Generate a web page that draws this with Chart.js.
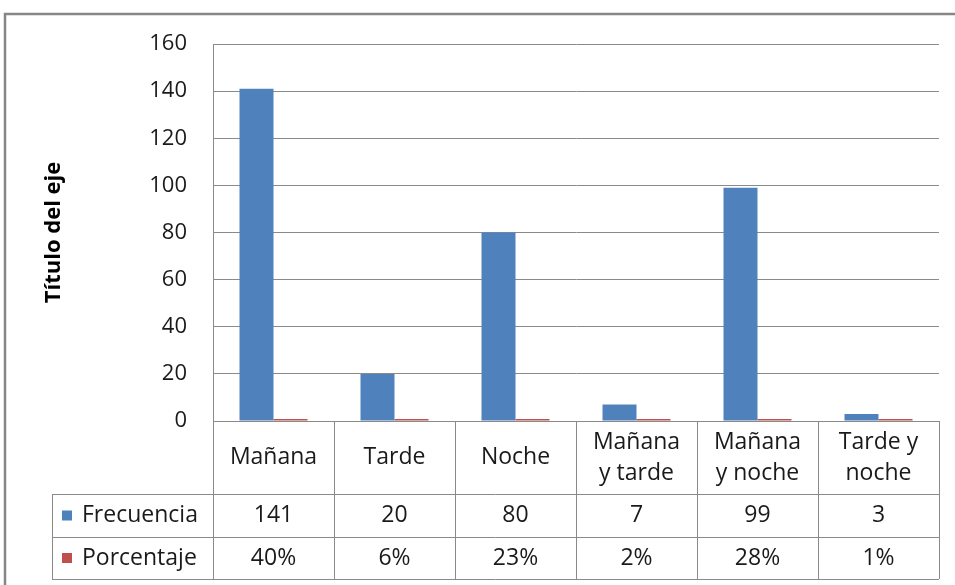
<!DOCTYPE html>
<html>
<head>
<meta charset="utf-8">
<script src="https://cdn.jsdelivr.net/npm/chart.js@4.4.0/dist/chart.umd.min.js"></script>
<style>
  body { margin: 0; background: #fff; }
  #wrap { width: 955px; height: 585px; position: relative; }
</style>
</head>
<body>
<div id="wrap"><canvas id="turnoChart"></canvas></div>
<script>
const categories = ['Mañana', 'Tarde', 'Noche', 'Mañana y tarde', 'Mañana y noche', 'Tarde y noche'];
const categoryLines = [['Mañana'], ['Tarde'], ['Noche'], ['Mañana', 'y tarde'], ['Mañana', 'y noche'], ['Tarde y', 'noche']];
const frecuencia = [141, 20, 80, 7, 99, 3];
const porcentaje = [0.40, 0.06, 0.23, 0.02, 0.28, 0.01];
const yTicks = [0, 20, 40, 60, 80, 100, 120, 140, 160];

const BLUE = '#4F81BD';
const RED = '#C0504D';
const LINE = '#8a8a8a';
const FONT = '"Open Sans", "Noto Sans", sans-serif';

function formatPercent(v) {
  return Math.round(v * 100) + '%';
}

// outer frame of the chart object, like the spreadsheet border
const framePlugin = {
  id: 'frame',
  beforeDraw(chart) {
    const ctx = chart.ctx;
    ctx.save();
    ctx.fillStyle = '#fff';
    ctx.fillRect(0, 0, chart.width, chart.height);
    ctx.strokeStyle = '#868686';
    ctx.lineWidth = 2.5;
    ctx.beginPath();
    ctx.moveTo(5, chart.height);
    ctx.lineTo(5, 14);
    ctx.lineTo(chart.width, 14);
    ctx.stroke();
    ctx.restore();
  }
};

// data table under the x axis, built from the scale positions
const dataTablePlugin = {
  id: 'dataTable',
  afterDraw(chart) {
    const ctx = chart.ctx;
    const x = chart.scales.x;
    const area = chart.chartArea;
    const n = categories.length;
    const colW = (area.right - area.left) / n;
    const top = area.bottom;
    const headerBottom = top + 73;
    const row1Bottom = headerBottom + 43;
    const row2Bottom = row1Bottom + 42;
    const legendLeft = 52;

    ctx.save();
    ctx.strokeStyle = LINE;
    ctx.lineWidth = 1;

    const hline = (y, x0, x1) => {
      ctx.beginPath();
      ctx.moveTo(x0, Math.round(y) + 0.5);
      ctx.lineTo(x1, Math.round(y) + 0.5);
      ctx.stroke();
    };
    const vline = (xx, y0, y1) => {
      ctx.beginPath();
      ctx.moveTo(Math.round(xx) + 0.5, y0);
      ctx.lineTo(Math.round(xx) + 0.5, y1);
      ctx.stroke();
    };

    hline(headerBottom, legendLeft, area.right);
    hline(row1Bottom, legendLeft, area.right);
    hline(row2Bottom, legendLeft, area.right);
    vline(legendLeft, headerBottom, row2Bottom);
    for (let i = 0; i <= n; i++) {
      vline(area.left + i * colW, top, row2Bottom);
    }

    ctx.fillStyle = '#1a1a1a';
    ctx.font = '23px ' + FONT;
    ctx.textAlign = 'center';
    ctx.textBaseline = 'middle';

    const headerMid = (top + headerBottom) / 2;
    const row1Mid = (headerBottom + row1Bottom) / 2;
    const row2Mid = (row1Bottom + row2Bottom) / 2;
    const lineH = 31;

    categoryLines.forEach((lines, i) => {
      const cx = x.getPixelForValue(i);
      const startY = headerMid - (lines.length - 1) * lineH / 2;
      lines.forEach((t, j) => ctx.fillText(t, cx, startY + j * lineH));
      ctx.fillText(String(frecuencia[i]), cx, row1Mid);
      ctx.fillText(formatPercent(porcentaje[i]), cx, row2Mid);
    });

    // legend keys in the first column
    const rows = [
      { label: chart.data.datasets[0].label, color: BLUE, y: row1Mid },
      { label: chart.data.datasets[1].label, color: RED, y: row2Mid }
    ];
    ctx.textAlign = 'left';
    rows.forEach(r => {
      ctx.fillStyle = r.color;
      ctx.fillRect(62, r.y - 5, 10, 10);
      ctx.fillStyle = '#1a1a1a';
      ctx.fillText(r.label, 82, r.y);
    });

    ctx.restore();
  }
};

const ctx = document.getElementById('turnoChart').getContext('2d');

new Chart(ctx, {
  type: 'bar',
  data: {
    labels: categories,
    datasets: [
      {
        label: 'Frecuencia',
        data: frecuencia,
        backgroundColor: BLUE,
        categoryPercentage: 0.562,
        barPercentage: 1
      },
      {
        label: 'Porcentaje',
        data: porcentaje,
        backgroundColor: RED,
        minBarLength: 2,
        categoryPercentage: 0.562,
        barPercentage: 1
      }
    ]
  },
  options: {
    responsive: true,
    maintainAspectRatio: false,
    animation: false,
    layout: {
      padding: { top: 44, right: 16, bottom: 6, left: 0 }
    },
    plugins: {
      legend: { display: false },
      tooltip: { enabled: false }
    },
    scales: {
      x: {
        grid: { display: false },
        border: { display: false },
        ticks: { display: false },
        afterFit: function(scale) {
          scale.height = 158;
        }
      },
      y: {
        min: 0,
        max: 160,
        afterBuildTicks: function(scale) {
          scale.ticks = yTicks.map(v => ({ value: v }));
        },
        grid: {
          color: LINE,
          drawTicks: false
        },
        border: { color: LINE },
        ticks: {
          padding: 26,
          color: '#1a1a1a',
          font: { family: FONT, size: 22 }
        },
        title: {
          display: true,
          text: 'Título del eje',
          color: '#000',
          padding: { top: 41 },
          font: { family: FONT, size: 22, weight: 'bold' }
        },
        afterFit: function(scale) {
          scale.width = 213;
        }
      }
    }
  },
  plugins: [framePlugin, dataTablePlugin]
});
</script>
</body>
</html>
